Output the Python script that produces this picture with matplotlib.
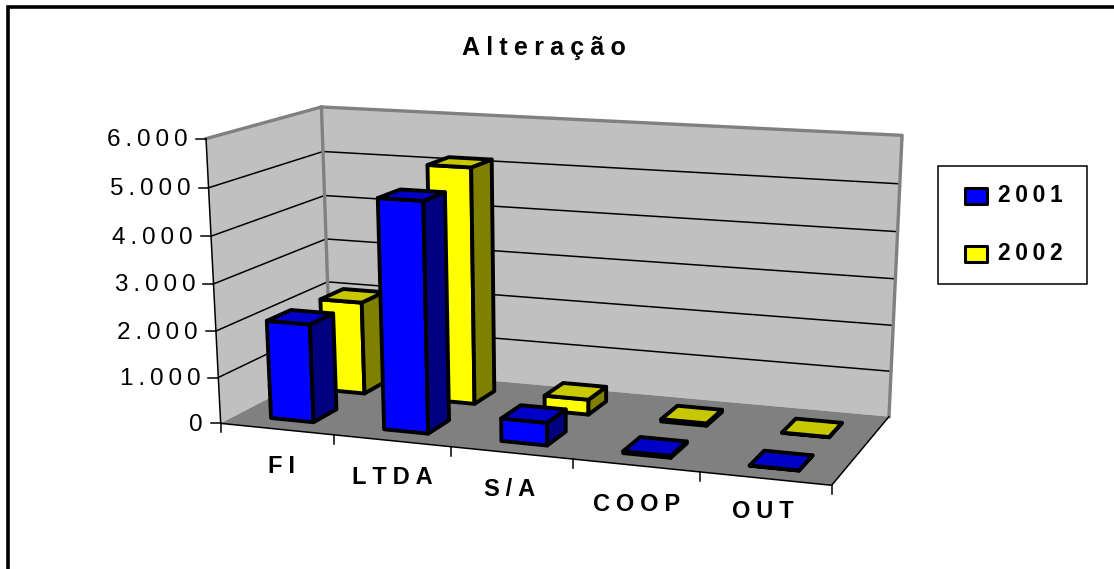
#! /usr/bin/env python3

# 3D looking column chart, drawn on a flat axes with a fitted projection
import numpy as np
import matplotlib
matplotlib.use('Agg')
import matplotlib.pyplot as plt
from matplotlib.patches import Polygon, Rectangle

plt.rcParams['font.family'] = ['Liberation Sans', 'DejaVu Sans']

# Data
categories = ['FI', 'LTDA', 'S/A', 'COOP', 'OUT']
series_names = ['2001', '2002']
values_2001 = [2120, 4870, 480, 40, 5]
values_2002 = [2060, 5170, 330, 50, 5]
tick_values = [0, 1000, 2000, 3000, 4000, 5000, 6000]
tick_labels = ['0', '1.000', '2.000', '3.000', '4.000', '5.000', '6.000']
y_max = 6000

# Colours: front, side, top
blues = ['#0000FF', '#000080', '#0000C8']
yellows = ['#FFFF00', '#808000', '#C8C800']

# Box corners (category, depth, height) and where they land in the picture
box_pts = [(0, 0, 0), (1, 0, 0), (1, 1, 0), (0, 1, 0),
           (0, 0, 1), (0, 1, 1), (1, 1, 1),
           (.2, 0, 0), (.4, 0, 0), (.6, 0, 0), (.8, 0, 0)]
pix_pts = [(220, 422), (831, 486), (889, 416), (330, 367),
           (205.5, 139), (322, 107), (902, 135),
           (335, 435), (452, 447), (572, 458), (701, 473)]


# Fit the camera matrix once
rows = []
rhs = []
for (u, v, w), (px, py) in zip(box_pts, pix_pts):
    rows.append([u, v, w, 1, 0, 0, 0, 0, -px * u, -px * v, -px * w])
    rhs.append(px)
    rows.append([0, 0, 0, 0, u, v, w, 1, -py * u, -py * v, -py * w])
    rhs.append(py)
cam = np.linalg.lstsq(np.array(rows, float), np.array(rhs, float), rcond=None)[0]
cam = np.append(cam, 1).reshape(3, 4)


def proj(u, v, w):
    x, y, s = cam @ np.array([u, v, w, 1.0])
    return x / s, y / s


def spaced(text, sp='\u2009'):
    return sp.join(text)


fig = plt.figure(figsize=(11.14, 5.69), dpi=100)
ax = fig.add_axes([0, 0, 1, 1])
ax.set_xlim(0, 1114)
ax.set_ylim(569, 0)
ax.axis('off')

# Outer frame, only top and left fall inside the picture
ax.plot([8, 8, 1114], [569, 6.5, 6.5], color='black', lw=2.6, solid_joinstyle='miter')

# Walls and floor
grey_edge = '#808080'
ax.add_patch(Polygon([proj(0, 0, 0), proj(0, 1, 0), proj(0, 1, 1), proj(0, 0, 1)], fc='#C0C0C0', ec='none'))
ax.add_patch(Polygon([proj(0, 1, 0), proj(1, 1, 0), proj(1, 1, 1), proj(0, 1, 1)], fc='#C0C0C0', ec='none'))
ax.add_patch(Polygon([proj(0, 0, 0), proj(1, 0, 0), proj(1, 1, 0), proj(0, 1, 0)], fc='#808080', ec='none'))

# Gridlines on both walls
for val in tick_values[1:-1]:
    w = val / y_max
    pts = [proj(0, 0, w), proj(0, 1, w), proj(1, 1, w)]
    ax.plot([p[0] for p in pts], [p[1] for p in pts], color='black', lw=1.1)

# Grey wall outline
pts = [proj(0, 0, 1), proj(0, 1, 1), proj(1, 1, 1), proj(1, 1, 0)]
ax.plot([p[0] for p in pts], [p[1] for p in pts], color=grey_edge, lw=2.4)
pts = [proj(0, 1, 1), proj(0, 1, 0)]
ax.plot([p[0] for p in pts], [p[1] for p in pts], color=grey_edge, lw=2.4)

# Axis lines
pts = [proj(0, 0, 1), proj(0, 0, 0), proj(1, 0, 0), proj(1, 1, 0)]
ax.plot([p[0] for p in pts], [p[1] for p in pts], color='black', lw=1.1)

# Value ticks and labels
for val, lab in zip(tick_values, tick_labels):
    x, y = proj(0, 0, val / y_max)
    ax.plot([x - 10, x], [y, y], color='black', lw=1.1)
    ax.text(x - 18, y + 1.5, spaced(lab), ha='right', va='center', fontsize=17.5)

# Category ticks
for i in range(len(categories) + 1):
    x, y = proj(i / len(categories), 0, 0)
    ax.plot([x, x], [y, y + 9], color='black', lw=1.1)

# Category labels
label_x = [281, 392, 510, 637, 763]
label_y = [466, 477, 489, 504, 512]
for name, x, y in zip(categories, label_x, label_y):
    ax.text(x, y, spaced(name, '\u2005'), ha='center', va='center', fontsize=17, fontweight='bold')


# One column: front, side and top faces
def draw_bar(i, val, v0, v1, colours):
    n = len(categories)
    u0 = (i + 0.5 - 0.19) / n - 0.001
    u1 = (i + 0.5 + 0.19) / n - 0.001
    w = val / y_max
    faces = [
        ([(u0, v0, 0), (u1, v0, 0), (u1, v0, w), (u0, v0, w)], colours[0]),
        ([(u1, v0, 0), (u1, v1, 0), (u1, v1, w), (u1, v0, w)], colours[1]),
        ([(u0, v0, w), (u1, v0, w), (u1, v1, w), (u0, v1, w)], colours[2]),
    ]
    for corners, col in faces:
        ax.add_patch(Polygon([proj(*c) for c in corners], fc=col, ec='black', lw=2.8,
                             joinstyle='round', zorder=3))


# Back row first, then the front row
for i, val in enumerate(values_2002):
    draw_bar(i, val, 0.62, 0.84, yellows)
for i, val in enumerate(values_2001):
    draw_bar(i, val, 0.14, 0.35, blues)

# Title
ax.text(544, 48, spaced('Alteração', '\u2005'), ha='center', va='center', fontsize=18, fontweight='bold')

# Legend
ax.add_patch(Rectangle((938, 166), 149, 118, fc='white', ec='black', lw=1.1))
for name, col, y in zip(series_names, [blues[0], yellows[0]], [196, 254]):
    ax.add_patch(Rectangle((965, y - 8), 22, 16, fc=col, ec='black', lw=2.2, joinstyle='round', zorder=3))
    ax.text(998, y - 1, spaced(name, '\u2009'), ha='left', va='center', fontsize=16.5, fontweight='bold')

fig.savefig('out.png', dpi=100)
